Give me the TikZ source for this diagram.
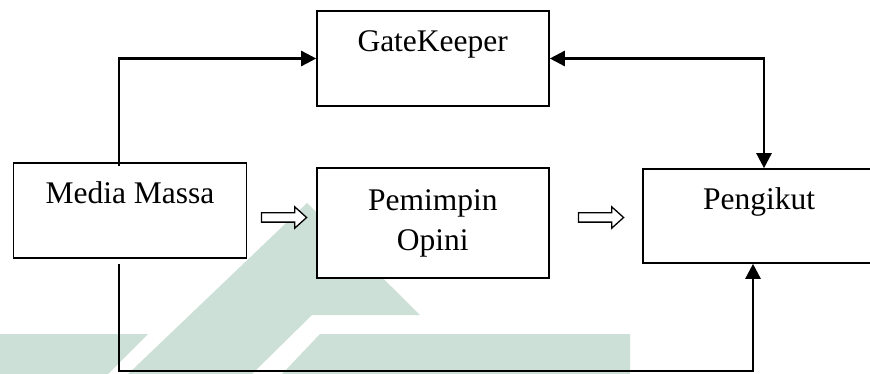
\documentclass[tikz,border=0pt]{standalone}
\usepackage{fontspec}
\setmainfont{Liberation Serif}
\usetikzlibrary{arrows.meta,shapes.arrows}
\definecolor{wmark}{RGB}{205,224,215}
\begin{document}
\begin{tikzpicture}[x=1pt,y=-1pt,
  box/.style={draw=black,line width=1.6pt,fill=white,rectangle,inner sep=0pt},
  lbl/.style={font=\fontsize{31.5}{38}\selectfont,inner sep=0pt,anchor=base},
  tip/.style={Triangle[length=15pt,width=15pt]},
  link/.style={line width=2.5pt,-{Triangle[length=15pt,width=15pt]}},
  flow/.style={draw=black,line width=1.3pt,fill=white,shape=single arrow,
    inner xsep=0pt,inner ysep=4pt,minimum height=45pt,
    single arrow head extend=6pt,single arrow tip angle=84}]
\useasboundingbox (0,0) rectangle (870,374);
\clip (0,0) rectangle (870,374);

% faint background emblem
\fill[wmark] (0,334) -- (148,334) -- (108,374) -- (0,374) -- cycle;
\fill[wmark] (128,374) -- (307,203) -- (420,315) -- (312,315) -- (252,374) -- cycle;
\fill[wmark] (320,334) -- (630,334) -- (630,374) -- (282,374) -- cycle;

% boxes
\node[box,minimum width=232pt,minimum height=95pt] (gk) at (433,58.5) {};
\node[box,minimum width=233pt,minimum height=95pt] (mm) at (130,210.5) {};
\node[box,minimum width=232pt,minimum height=110pt] (po) at (433,223) {};
\node[box,minimum width=242pt,minimum height=94pt] (pk) at (764,216) {};

% labels
\node[lbl] (gkt) at (432.7,52) {GateKeeper};
\node[lbl] (mmt) at (130,203.3) {Media Massa};
\node[lbl] (pot1) at (432.8,210.5) {Pemimpin};
\node[lbl] (pot2) at (432.8,250.7) {Opini};
\node[lbl] (pkt) at (759,209.3) {Pengikut};

% hollow flow arrows
\node[flow] (f1) at (281.5,217.5) {};
\node[flow] (f2) at (598.5,217.5) {};

% connectors
\coordinate (lx) at (119,0);
\coordinate (rx) at (753,0);
\coordinate (low) at (0,371);
\draw[link] ([yshift=-4pt]lx |- mm.north) |- (gk.west);
\draw[line width=2.5pt,{Triangle[length=15pt,width=15pt]}-{Triangle[length=15pt,width=15pt]}]
  (gk.east) -| (pk.north);
\draw[link] ([yshift=-5pt]lx |- mm.south) -- (lx |- low) -| (rx |- pk.south);
\end{tikzpicture}
\end{document}
